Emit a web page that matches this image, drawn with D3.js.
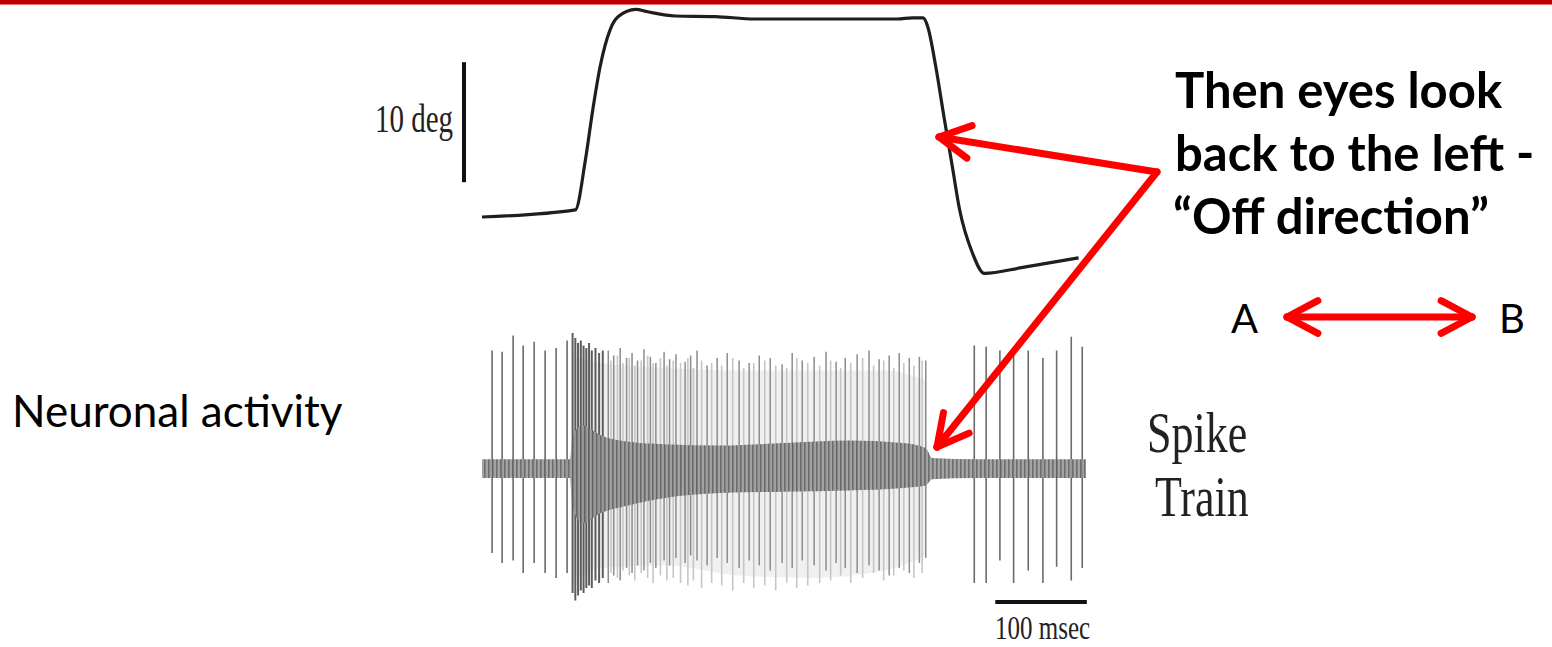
<!DOCTYPE html>
<html>
<head>
<meta charset="utf-8">
<script src="https://cdn.jsdelivr.net/npm/d3@7"></script>
<style>
  body { margin: 0; background: #fff; }
  svg { display: block; }
</style>
</head>
<body>
<div id="chart"></div>
<script>
// ---- eye position trace (time in ms, position in deg) ----
const eyeTime = [0, 102, 113, 121, 129, 140, 149, 168, 181, 211, 255, 298, 454, 470, 482, 487, 496, 505, 514, 522, 536, 549, 591, 652];
const eyeDeg  = [0, 0.6, 4.75, 8.9, 12.5, 15.6, 16.7, 17.3, 17.1, 16.75, 16.7, 16.5, 16.5, 16.6, 16.6, 15.9, 12.5, 8.3, 4.2, 0.6, -3, -4.7, -4.2, -3.4];

// scale bars
const degBar = [2.9, 12.9];     // 10 deg
const msBar = [561, 661];       // 100 msec

// ---- spike train (time in ms, amplitude in arbitrary units) ----
const preSpikeTime = [11, 22, 34, 45, 57, 69, 81, 93];
const preSpikeUp   = [94, 93, 106, 98, 101, 94, 96, 102];
const preSpikeDown = [-68, -76, -74, -84, -76, -84, -88, -84];

const onsetSpikeTime = [99, 102, 105, 108, 111, 114, 117, 120, 124, 128, 132];
const onsetSpikeUp   = [108, 104, 100, 102, 98, 96, 100, 94, 96, 92, 94];
const onsetSpikeDown = [-100, -106, -102, -98, -100, -96, -94, -96, -90, -92, -88];

const burstSpikeTime = [138, 144, 151, 158, 164, 170, 177, 184, 190, 199, 205, 212, 222, 228, 235, 246, 257, 268, 281, 292, 303, 315, 328, 339, 350, 363, 376, 387, 397, 410, 423, 434, 445, 456, 467, 478, 485];
const burstSpikeUp   = [94, 90, 96, 88, 92, 86, 95, 89, 84, 93, 87, 91, 85, 90, 94, 82, 88, 92, 86, 84, 90, 88, 83, 92, 86, 89, 93, 85, 88, 91, 94, 87, 90, 92, 88, 89, 86];
const burstSpikeDown = [-92, -86, -90, -80, -84, -78, -82, -76, -80, -74, -78, -72, -76, -70, -74, -78, -72, -76, -80, -74, -78, -82, -76, -80, -74, -78, -82, -76, -80, -84, -78, -82, -86, -80, -84, -76, -72];

const lightSpikeTime = [141, 148, 154, 161, 167, 174, 181, 187, 195, 202, 209, 217, 225, 231, 240, 251, 262, 274, 286, 297, 309, 321, 333, 344, 356, 369, 381, 392, 403, 416, 428, 439, 450, 461, 472, 481];
const lightSpikeUp   = [86, 90, 84, 88, 82, 86, 90, 84, 88, 82, 86, 84, 88, 80, 86, 84, 82, 88, 80, 84, 86, 82, 80, 88, 84, 82, 86, 80, 84, 88, 82, 86, 80, 84, 82, 86];
const lightSpikeDown = [-84, -88, -82, -86, -90, -84, -88, -92, -86, -90, -88, -92, -94, -90, -96, -92, -94, -98, -92, -96, -94, -98, -92, -96, -94, -92, -90, -86, -92, -88, -84, -90, -86, -82, -88, -84];

const postSpikeTime = [538, 551, 566, 581, 597, 613, 628, 644, 656];
const postSpikeUp   = [98, 97, 94, 93, 94, 88, 94, 105, 97];
const postSpikeDown = [-92, -92, -74, -92, -82, -92, -79, -90, -80];

// background noise envelope around the baseline
const noiseTime = [0, 96, 99, 110, 130, 160, 200, 260, 330, 400, 460, 485, 492, 540, 600, 660];
const noiseUp   = [7, 7, 26, 34, 26, 21, 19, 18, 20, 22, 20, 16, 8, 7, 7, 7];
const noiseDown = [-8, -8, -32, -44, -36, -30, -24, -20, -19, -18, -16, -14, -9, -8, -8, -8];

// pale overlap of the overlaid trials during the burst
const paleTime = [99, 130, 200, 280, 360, 440, 486];
const paleUp   = [90, 84, 80, 78, 78, 78, 70];
const paleDown = [-90, -80, -78, -86, -88, -82, -70];

// ---- texts ----
const calloutLines = ['Then eyes look', 'back to the left -', '\u201COff direction\u201D'];
const sideLabel = 'Neuronal activity';
const trainLabel = ['Spike', 'Train'];
const degLabel = '10 deg';
const msLabel = '100 msec';
const dirLabels = ['A', 'B'];

const W = 1552, H = 647;
const RED = '#ff0000';

const svg = d3.select('#chart').append('svg')
    .attr('width', W)
    .attr('height', H);

// striped fill that stands in for the noisy baseline texture
const defs = svg.append('defs');
const pat = defs.append('pattern')
    .attr('id', 'noise')
    .attr('width', 4).attr('height', 6)
    .attr('patternUnits', 'userSpaceOnUse');
pat.append('rect').attr('width', 4).attr('height', 6).attr('fill', '#9a9a9a');
pat.append('rect').attr('width', 1.6).attr('height', 6).attr('fill', '#5e5e5e');

// title bar
svg.append('rect').attr('x', 0).attr('y', 0).attr('width', W).attr('height', 4).attr('fill', '#c00000');
svg.append('rect').attr('x', 0).attr('y', 4).attr('width', W).attr('height', 1).attr('fill', '#e27070');

// scales
const x = d3.scaleLinear().domain([0, 100]).range([482, 573.5]);
const yDeg = d3.scaleLinear().domain([0, 10]).range([217, 97]);
const yAmp = d3.scaleLinear().domain([0, 100]).range([468, 343]);

// ---- eye trace ----
const eyeData = eyeTime.map((t, i) => ({ t, v: eyeDeg[i] }));
svg.append('path')
    .datum(eyeData)
    .attr('fill', 'none')
    .attr('stroke', '#1e1e1e')
    .attr('stroke-width', 3.2)
    .attr('stroke-linejoin', 'round')
    .attr('d', d3.line().x(d => x(d.t)).y(d => yDeg(d.v)).curve(d3.curveMonotoneX));

// 10 deg bar
svg.append('line')
    .attr('x1', x(-19.7)).attr('x2', x(-19.7))
    .attr('y1', yDeg(degBar[0])).attr('y2', yDeg(degBar[1]))
    .attr('stroke', '#111').attr('stroke-width', 4);

const serif = '"Liberation Serif", "Times New Roman", serif';
svg.append('g')
    .attr('transform', 'translate(453,132) scale(1,1.38)')
    .append('text')
    .attr('text-anchor', 'end')
    .attr('font-family', serif)
    .attr('font-size', 29)
    .attr('fill', '#222')
    .text(degLabel);

// ---- spike train ----
const spikeG = svg.append('g');

const areaOf = (ts, up, dn) => d3.area()
    .x((d, i) => x(ts[i]))
    .y0((d, i) => yAmp(dn[i]))
    .y1((d, i) => yAmp(up[i]))
    .curve(d3.curveMonotoneX)(ts);

spikeG.append('path')
    .attr('d', areaOf(paleTime, paleUp, paleDown))
    .attr('fill', '#f0f0f0');

function drawSpikes(ts, up, dn, color, w) {
    spikeG.append('g')
        .selectAll('line')
        .data(ts)
        .join('line')
        .attr('x1', d => x(d)).attr('x2', d => x(d))
        .attr('y1', (d, i) => yAmp(up[i]))
        .attr('y2', (d, i) => yAmp(dn[i]))
        .attr('stroke', color)
        .attr('stroke-width', w);
}

drawSpikes(lightSpikeTime, lightSpikeUp, lightSpikeDown, '#c6c6c6', 1.6);
drawSpikes(burstSpikeTime, burstSpikeUp, burstSpikeDown, '#8c8c8c', 1.5);
drawSpikes(onsetSpikeTime, onsetSpikeUp, onsetSpikeDown, '#5c5c5c', 2);
drawSpikes(preSpikeTime, preSpikeUp, preSpikeDown, '#6a6a6a', 1.6);
drawSpikes(postSpikeTime, postSpikeUp, postSpikeDown, '#6a6a6a', 1.6);

spikeG.append('path')
    .attr('d', areaOf(noiseTime, noiseUp, noiseDown))
    .attr('fill', 'url(#noise)')
    .attr('fill-opacity', 0.9);

// 100 msec bar
svg.append('line')
    .attr('x1', x(msBar[0])).attr('x2', x(msBar[1]))
    .attr('y1', 602).attr('y2', 602)
    .attr('stroke', '#111').attr('stroke-width', 4);

svg.append('g')
    .attr('transform', 'translate(995,639) scale(1,1.32)')
    .append('text')
    .attr('font-family', serif)
    .attr('font-size', 25)
    .attr('fill', '#222')
    .text(msLabel);

trainLabel.forEach((s, i) => {
    svg.append('g')
        .attr('transform', `translate(${1147 + i * 8},${452 + i * 64}) scale(1,1.32)`)
        .append('text')
        .attr('font-family', serif)
        .attr('font-size', 44)
        .attr('fill', '#222')
        .text(s);
});

// ---- labels ----
const sans = 'Lato, "Open Sans", sans-serif';
svg.append('text')
    .attr('x', 12).attr('y', 427)
    .attr('font-family', sans)
    .attr('font-size', 44)
    .attr('fill', '#000')
    .text(sideLabel);

svg.append('g').selectAll('text')
    .data(calloutLines)
    .join('text')
    .attr('x', (d, i) => i === 2 ? 1173 : 1175)
    .attr('y', (d, i) => 108 + i * 63)
    .attr('font-family', sans)
    .attr('font-weight', 700)
    .attr('font-size', 49)
    .attr('fill', '#000')
    .text(d => d);

svg.append('g').selectAll('text')
    .data(dirLabels)
    .join('text')
    .attr('x', (d, i) => i === 0 ? 1231 : 1499)
    .attr('y', 333)
    .attr('font-family', sans)
    .attr('font-size', 40)
    .attr('fill', '#000')
    .text(d => d);

// ---- red arrows ----
function arrow(tail, tip, heads) {
    const g = svg.append('g')
        .attr('stroke', RED).attr('stroke-width', 7)
        .attr('stroke-linecap', 'round').attr('fill', 'none');
    g.append('line')
        .attr('x1', tail[0]).attr('y1', tail[1])
        .attr('x2', tip[0]).attr('y2', tip[1]);
    const pts = heads === 2 ? [[tip, tail], [tail, tip]] : [[tip, tail]];
    pts.forEach(([p, q]) => {
        const a = Math.atan2(q[1] - p[1], q[0] - p[0]);
        [-1, 1].forEach(s => {
            const b = a + s * 28 * Math.PI / 180;
            g.append('line')
                .attr('x1', p[0]).attr('y1', p[1])
                .attr('x2', p[0] + 35 * Math.cos(b)).attr('y2', p[1] + 35 * Math.sin(b));
        });
    });
}

arrow([1157, 172], [939, 137], 1);
arrow([1157, 172], [937, 447], 1);
arrow([1287, 317], [1472, 317], 2);
</script>
</body>
</html>
